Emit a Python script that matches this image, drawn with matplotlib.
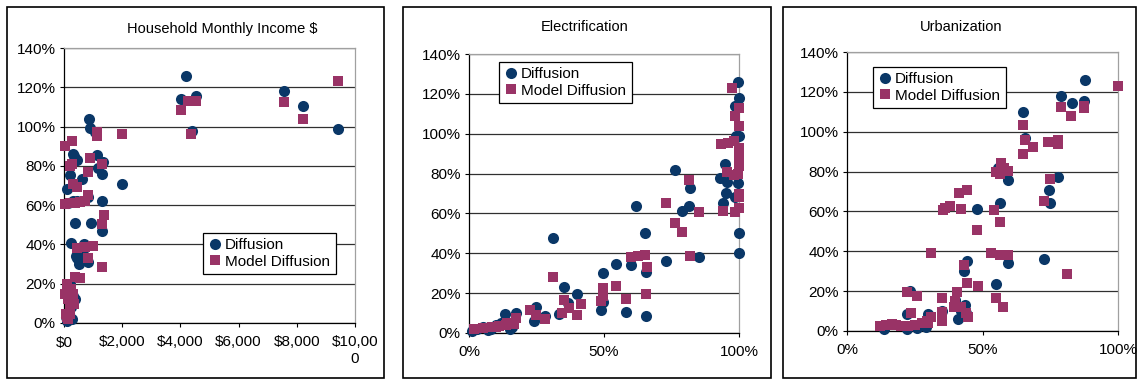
import matplotlib
matplotlib.use('Agg')
import matplotlib.pyplot as plt
from matplotlib.patches import Rectangle

plt.rcParams['font.family'] = ['Liberation Sans', 'DejaVu Sans']

# ---- data ----
titles = ['Household Monthly Income $', 'Electrification', 'Urbanization']
series_names = ['Diffusion', 'Model Diffusion']
y_ticks = [0, 20, 40, 60, 80, 100, 120, 140]
y_ticklabels = ['0%', '20%', '40%', '60%', '80%', '100%', '120%', '140%']
income_ticks = [0, 2000, 4000, 6000, 8000, 10000]
income_ticklabels = ['$0', '$2,000', '$4,000', '$6,000', '$8,000', '$10,00\n0']
pct_ticks = [0, 50, 100]
pct_ticklabels = ['0%', '50%', '100%']

# income panel: diffusion (circles)
inc_diff_x = [4200, 4030, 4520, 4400, 7570, 8220, 9430, 870, 910, 1050, 1120, 1180, 1290, 1350, 1290,
              1290, 925, 377, 240, 400, 514, 832, 430, 1976, 91, 205, 320, 430, 605, 830, 440, 300,
              150, 90, 380, 300, 200, 250, 120, 80, 660, 700, 330, 180, 260]
inc_diff_y = [126, 114, 115.5, 97.5, 118, 110.5, 99, 104, 99.5, 97, 85.5, 79, 76, 82, 62,
              47, 51, 51, 40.5, 34, 30, 31, 33, 71, 68, 75.5, 86, 83, 73.5, 64, 62, 62,
              61, 1, 12, 14, 20, 8, 4, 3, 35, 40, 85, 5, 2]
# income panel: model diffusion (squares)
inc_model_x = [9430, 7570, 8220, 4030, 4250, 4520, 4380, 2000, 1120, 1140, 910, 1290, 810, 40, 290,
               290, 200, 320, 430, 20, 200, 380, 550, 720, 820, 1360, 1290, 430, 720, 980, 830,
               1320, 550, 380, 100, 250, 50, 300, 150, 350, 200, 60, 100, 220, 150, 280]
inc_model_y = [123, 112.5, 104, 108.5, 113, 113, 96, 96, 97, 95, 84, 81, 77, 90, 92.5,
               81, 80, 71, 69, 60.5, 61, 61, 61.5, 62, 65, 55, 50.5, 38, 38.5, 39, 33,
               28.5, 23, 23.5, 20, 17.5, 15, 15, 12, 9.5, 8, 4.5, 3, 4.5, 2, 13]

# electrification panel
elec_diff_x = [99.8, 100, 99, 98.5, 99, 100, 94.8, 93, 95.5, 95, 99.8, 94, 98.5, 100, 100,
               76.3, 82, 79, 81.5, 85, 73, 62, 65, 65.5, 60, 54.4, 49.7, 49.7, 49, 58, 65.5,
               31.2, 35, 40, 36.5, 24.7, 24, 28, 17.4, 13.3, 33.5, 1, 5, 8, 10, 12, 16, 3, 7, 15]
elec_diff_y = [126, 118, 114, 114, 99, 99, 85, 78, 76, 70.5, 75.5, 65, 68, 50, 40,
               82, 73, 61, 63.5, 38, 36, 63.5, 50, 30.5, 34, 34.5, 30, 15.5, 11.5, 10.5, 8.5,
               47.5, 23, 19.5, 15, 13, 6, 8.5, 10, 9.5, 9.5, 1, 3, 2, 4, 5, 3, 2, 1.5, 2]
elec_model_x = [97.5, 100, 98.5, 100, 93.5, 96, 98, 100, 100, 100, 100, 95.5, 98, 99.5, 100, 100,
                100, 94, 98.5, 81.3, 73, 76.3, 79, 85, 82, 60, 62.5, 65, 66, 65.5, 54.4, 58,
                49.7, 49.7, 49, 31.2, 35, 34.3, 37, 41.5, 40, 22.5, 24.7, 28, 17.4, 16.8,
                13.6, 11, 8.5, 5, 2, 14, 10]
elec_model_y = [123, 113, 109, 104, 95, 95.5, 96.5, 93, 90, 87, 84, 81, 79.5, 80, 70, 68,
                62.5, 61, 60.5, 77, 65, 55, 50.5, 60.5, 38.5, 38, 38.5, 39, 33, 19.5, 23.5, 17,
                22.5, 18.5, 16, 28, 16.5, 10, 12.5, 14.5, 9, 11.5, 9, 7, 7.5, 4.5,
                4, 3.5, 3, 2.5, 2, 5, 3]

# urbanization panel
urb_diff_x = [87.8, 78.8, 83, 87.5, 65, 65.8, 59.5, 55.8, 56.4, 47.8, 74.5, 78, 74.8, 72.6, 59.3,
              44.2, 43.3, 54.8, 23.2, 22, 30, 43.5, 42, 41, 44, 40, 22, 25.7, 13.8, 29, 35]
urb_diff_y = [126, 118, 114.5, 115.5, 110, 97, 76, 82, 64, 61, 71, 77.5, 64, 36, 34,
              35, 30, 23.5, 20, 8.5, 8.5, 13, 10, 6, 9, 15.5, 1, 1.5, 1, 2, 10]
urb_model_x = [100, 78.8, 82.8, 87.5, 87.5, 65, 65.8, 68.8, 65, 74.3, 78, 77.8, 57, 54.8, 56.4,
               59.5, 58, 74.8, 72.7, 54.2, 56.4, 47.8, 36.2, 38, 42, 41.5, 44.4, 35.5, 31, 53.1,
               56.4, 59.5, 81.3, 43.2, 44.2, 48.3, 22, 26, 35.2, 40.7, 54.8, 57.6, 40, 39.5,
               43.8, 35, 35, 23.5, 31, 30, 12.2, 14.5, 16.5, 18, 20, 22.5, 25, 27.5, 29.5, 44.5, 42]
urb_model_y = [123, 112.5, 108, 113, 112, 103.5, 96, 92.5, 89, 95, 96, 94, 84.5, 80, 79,
               80.5, 82, 76.5, 65, 60.5, 54.5, 50.5, 61.5, 62.5, 61, 69, 71, 60.5, 39, 39,
               38, 38, 28.5, 33, 24, 22.5, 19.5, 17.5, 16.5, 19.5, 16.5, 12, 15, 12,
               9, 9.5, 5, 9, 7, 4, 2.5, 3, 3.5, 3, 2.5, 2.5, 3, 4, 5, 7, 12]

navy = '#0a3767'
plum = '#993366'

fig = plt.figure(figsize=(11.38, 3.8), dpi=100)
W, H = 1138.0, 380.0


def fx(px):
    return px / W


def fy(py):
    return 1 - py / H


# outer chart frames
for x0, x1 in [(7, 384), (403, 771), (783, 1136)]:
    fig.patches.append(Rectangle((fx(x0), fy(378)), fx(x1 - x0), (378 - 7) / H,
                                 transform=fig.transFigure, fill=False,
                                 edgecolor='black', linewidth=1.2))

panels = [
    dict(box=(64, 48, 355, 323), title=(222, 29), legend=(203, 233),
         dx=inc_diff_x, dy=inc_diff_y, mx=inc_model_x, my=inc_model_y,
         xlim=(0, 10000), xticks=income_ticks, xlabels=income_ticklabels),
    dict(box=(469, 54, 739, 333), title=(585, 27), legend=(499, 62),
         dx=elec_diff_x, dy=elec_diff_y, mx=elec_model_x, my=elec_model_y,
         xlim=(0, 100), xticks=pct_ticks, xlabels=pct_ticklabels),
    dict(box=(847, 52, 1118, 331), title=(961, 27), legend=(873, 67),
         dx=urb_diff_x, dy=urb_diff_y, mx=urb_model_x, my=urb_model_y,
         xlim=(0, 100), xticks=pct_ticks, xlabels=pct_ticklabels),
]

for title, p in zip(titles, panels):
    l, t, r, b = p['box']
    ax = fig.add_axes([fx(l), fy(b), (r - l) / W, (b - t) / H])
    ax.plot(p['dx'], p['dy'], 'o', color=navy, markersize=8, markeredgewidth=0,
            label=series_names[0], clip_on=False, zorder=3)
    ax.plot(p['mx'], p['my'], 's', color=plum, markersize=7.3, markeredgewidth=0,
            label=series_names[1], clip_on=False, zorder=4)
    ax.set_xlim(p['xlim'])
    ax.set_ylim(0, 140)
    ax.set_xticks(p['xticks'])
    ax.set_xticklabels(p['xlabels'])
    ax.set_yticks(y_ticks)
    ax.set_yticklabels(y_ticklabels)
    ax.tick_params(axis='both', direction='out', length=3, width=0.8,
                   labelsize=11, pad=3)
    ax.tick_params(axis='x', pad=6)
    ax.set_axisbelow(True)
    ax.yaxis.grid(True, color='#303030', linewidth=0.9)
    for side in ['top', 'right']:
        ax.spines[side].set_color('#a0a0a0')
        ax.spines[side].set_linewidth(0.9)
    for side in ['left', 'bottom']:
        ax.spines[side].set_color('black')
        ax.spines[side].set_linewidth(0.9)
    fig.text(fx(p['title'][0]), fy(p['title'][1]), title, ha='center', va='center',
             fontsize=10.5)
    lx, ly = p['legend']
    leg = ax.legend(loc='upper left', bbox_to_anchor=(fx(lx), fy(ly)),
                    bbox_transform=fig.transFigure, borderaxespad=0, fontsize=11,
                    fancybox=False, framealpha=1, edgecolor='black', handlelength=0.9,
                    handletextpad=0.2, labelspacing=0.15, borderpad=0.35)
    leg.get_frame().set_linewidth(0.9)

fig.savefig('out.png', dpi=100)
